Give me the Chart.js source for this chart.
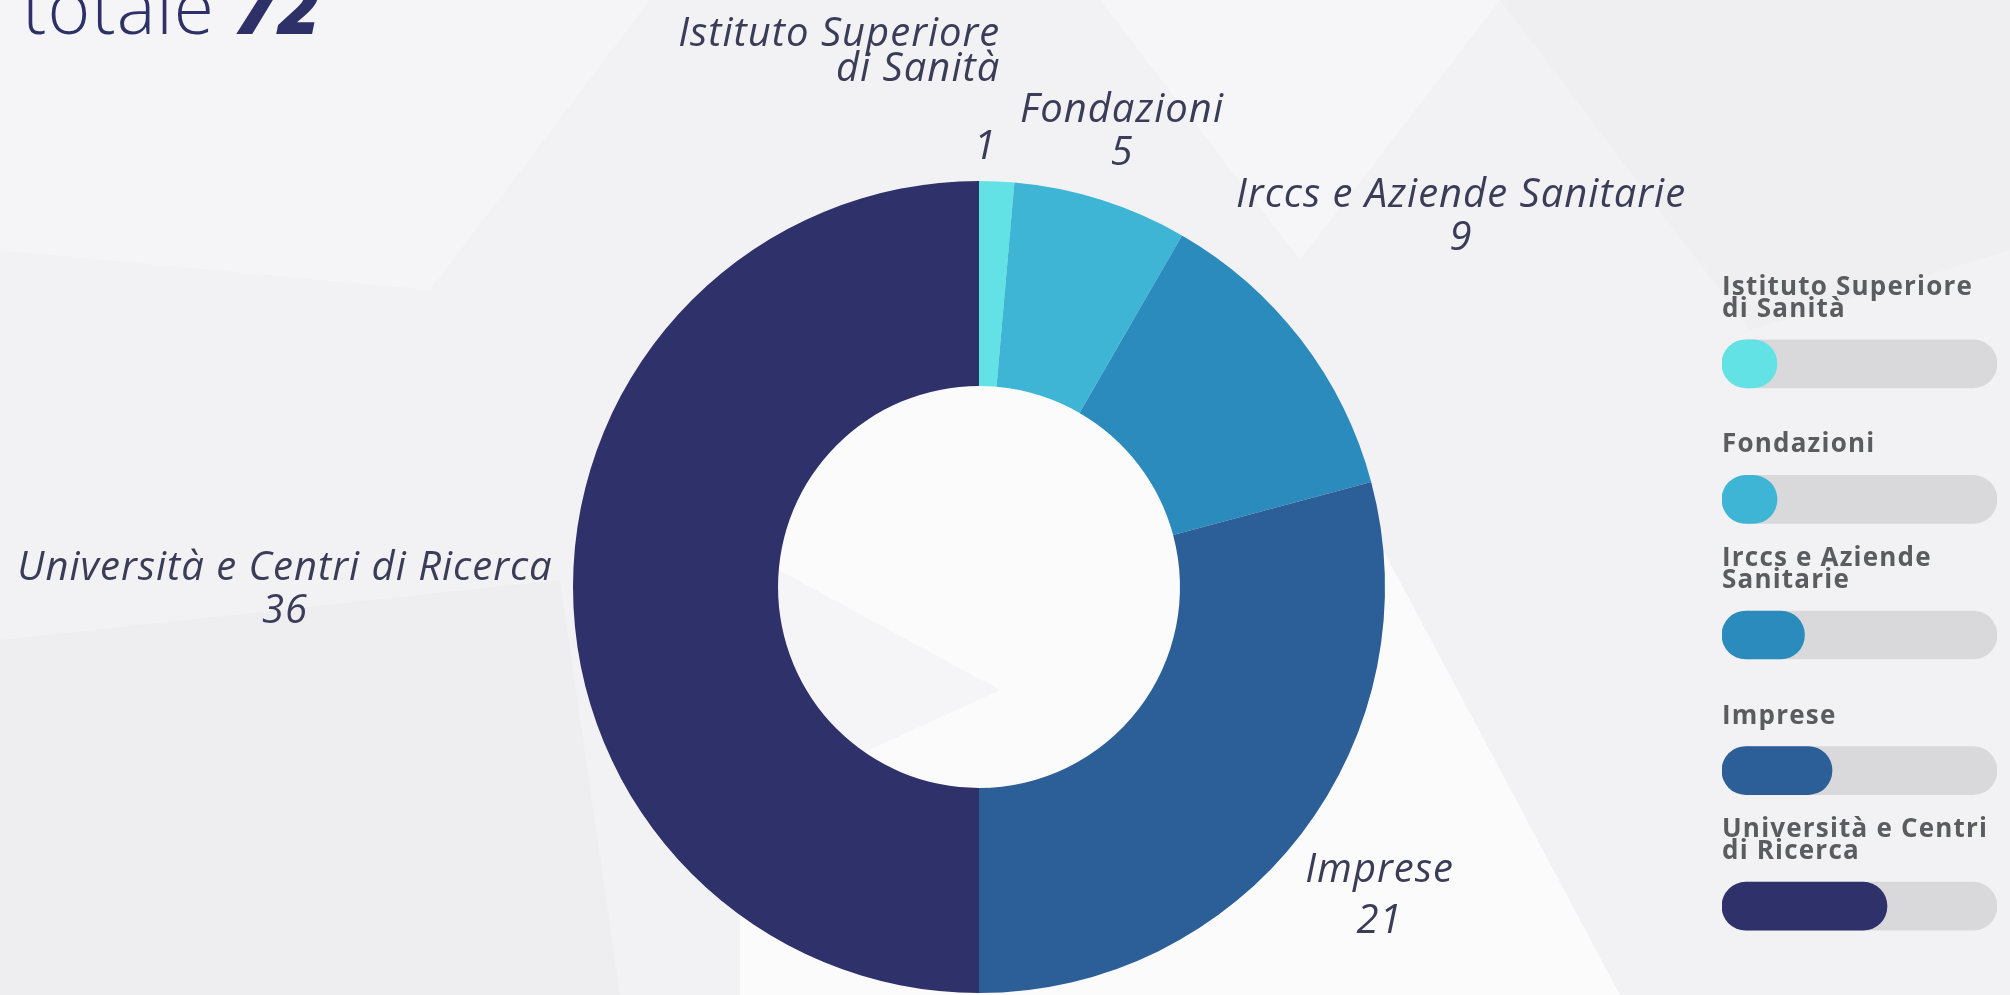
<!DOCTYPE html>
<html>
<head>
<meta charset="utf-8">
<script src="https://cdn.jsdelivr.net/npm/chart.js@4.4.1/dist/chart.umd.min.js"></script>
<style>
  html, body { margin: 0; padding: 0; }
  body {
    width: 2010px; height: 995px; overflow: hidden; position: relative;
    background: #f2f2f5;
  }
  .poly { position: absolute; left: 0; top: 0; width: 2010px; height: 995px; }
  .p1 { background: #f5f5f8; clip-path: polygon(0 0, 650px 0, 430px 290px, 0 250px); }
  .p2 { background: #efeff2; clip-path: polygon(1500px 0, 2010px 0, 2010px 250px, 1750px 330px); }
  .p3 { background: #fbfbfc; clip-path: polygon(740px 380px, 1250px 300px, 1620px 995px, 740px 995px); }
  .p4 { background: #eeeef1; clip-path: polygon(0 640px, 560px 580px, 620px 995px, 0 995px); }
  .p5 { background: #f6f6f9; clip-path: polygon(1100px 0, 1500px 0, 1300px 260px); }
  .p6 { background: #f5f5f7; clip-path: polygon(760px 560px, 1000px 690px, 760px 800px); }
  .titolo {
    position: absolute; left: 22px; top: -31px; margin: 0;
    font-family: "Open Sans", sans-serif; font-weight: 300; font-size: 73px; line-height: 73px;
    color: #2e3168; white-space: nowrap; letter-spacing: 1px;
  }
  .titolo b { font-weight: 800; font-style: italic; }
  canvas { position: absolute; left: 0; top: 0; }
</style>
</head>
<body>
<div class="poly p1"></div>
<div class="poly p2"></div>
<div class="poly p3"></div>
<div class="poly p4"></div>
<div class="poly p5"></div>
<div class="poly p6"></div>
<p class="titolo">totale <b>72</b></p>
<canvas id="ciambella" width="2010" height="995"></canvas>
<canvas id="legenda" width="2010" height="995"></canvas>
<script>
// dati
const categorie = ['Istituto Superiore di Sanità', 'Fondazioni', 'Irccs e Aziende Sanitarie', 'Imprese', 'Università e Centri di Ricerca'];
const valori = [1, 5, 9, 21, 36];
const colori = ['#62e2e4', '#3fb5d6', '#2b8bbd', '#2c5e98', '#2f316a'];
// etichette della legenda a destra (a capo come nell'originale)
const righeLegenda = [['Istituto Superiore', 'di Sanità'], ['Fondazioni'], ['Irccs e Aziende', 'Sanitarie'], ['Imprese'], ['Università e Centri', 'di Ricerca']];
// riempimento delle barre in legenda (%)
const livelliLegenda = [20, 20, 30, 40, 60];
const righeEtichette = [['Istituto Superiore', 'di Sanità'], ['Fondazioni'], ['Irccs e Aziende Sanitarie'], ['Imprese'], ['Università e Centri di Ricerca']];

// posizione delle etichette esterne (distanza dal centro, spostamenti)
const posEtichette = [
    { dist: 442, dx: -13, dy: 2, gap: 78, align: 'right', ax: 15 },
    { dist: 459, dx: 5, dy: 4 },
    { dist: 595, dx: 10, dy: 14 },
    { dist: 520, dx: -12, dy: 18, gap: 51 },
    { dist: 694, dx: 0, dy: 25 }
];

const fontEtichette = 'italic 40px "Open Sans"';
const coloreTesto = '#3b3d58';

const etichetteEsterne = {
    id: 'etichetteEsterne',
    afterDraw(chart) {
        const ctx = chart.ctx;
        const archi = chart.getDatasetMeta(0).data;
        ctx.save();
        ctx.font = fontEtichette;
        ctx.letterSpacing = '1px';
        ctx.fillStyle = coloreTesto;
        ctx.textBaseline = 'middle';
        archi.forEach((arco, i) => {
            const p = posEtichette[i];
            const medio = (arco.startAngle + arco.endAngle) / 2;
            const x = arco.x + Math.cos(medio) * p.dist + p.dx;
            const y = arco.y + Math.sin(medio) * p.dist + p.dy;
            ctx.textAlign = 'center';
            ctx.fillText(String(valori[i]), x, y);
            const gap = p.gap || 43;
            const righe = righeEtichette[i];
            ctx.textAlign = p.align || 'center';
            const nx = x + (p.ax || 0);
            for (let k = 0; k < righe.length; k++) {
                const yy = y - gap - (righe.length - 1 - k) * 35;
                ctx.fillText(righe[k], nx, yy);
            }
        });
        ctx.restore();
    }
};

new Chart(document.getElementById('ciambella'), {
    type: 'doughnut',
    data: {
        labels: categorie,
        datasets: [{
            data: valori,
            backgroundColor: colori,
            borderWidth: 0
        }]
    },
    options: {
        responsive: false,
        animation: false,
        cutout: '49.5%',
        layout: { padding: { left: 573, right: 625, top: 181, bottom: 2 } },
        plugins: {
            legend: { display: false },
            tooltip: { enabled: false }
        }
    },
    plugins: [etichetteEsterne]
});

// titoli sopra le barre della legenda
const titoliLegenda = {
    id: 'titoliLegenda',
    afterDraw(chart) {
        const ctx = chart.ctx;
        const barre = chart.getDatasetMeta(1).data;
        ctx.save();
        ctx.font = '700 26px "Open Sans"';
        ctx.letterSpacing = '1.2px';
        ctx.fillStyle = '#5b5c5f';
        ctx.textAlign = 'left';
        ctx.textBaseline = 'alphabetic';
        barre.forEach((b, i) => {
            const righe = righeLegenda[i];
            for (let k = 0; k < righe.length; k++) {
                const y = b.y - 47 - (righe.length - 1 - k) * 22;
                ctx.fillText(righe[k], chart.chartArea.left, y);
            }
        });
        ctx.restore();
    }
};

new Chart(document.getElementById('legenda'), {
    type: 'bar',
    data: {
        labels: categorie,
        datasets: [
            {
                data: livelliLegenda,
                backgroundColor: colori,
                grouped: false,
                barThickness: 48,
                borderRadius: 24,
                borderSkipped: false,
                order: 0
            },
            {
                data: livelliLegenda.map(() => 100),
                backgroundColor: '#d9d9db',
                grouped: false,
                barThickness: 48,
                borderRadius: 24,
                borderSkipped: false,
                order: 1
            }
        ]
    },
    options: {
        indexAxis: 'y',
        responsive: false,
        animation: false,
        layout: { padding: { left: 1722, right: 13, top: 296, bottom: 21 } },
        scales: {
            x: { display: false, min: 0, max: 100 },
            y: { display: false }
        },
        plugins: {
            legend: { display: false },
            tooltip: { enabled: false }
        }
    },
    plugins: [titoliLegenda]
});
</script>
</body>
</html>
